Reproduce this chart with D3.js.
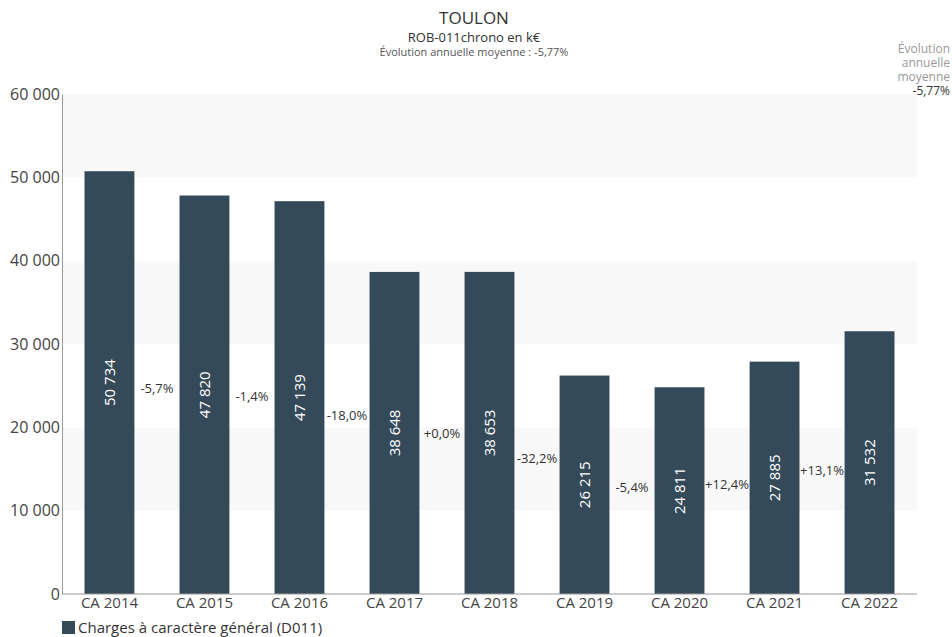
<!DOCTYPE html>
<meta charset="utf-8">
<style>
	body { margin: 0; background: #fff; }
	svg { font-family: "Open Sans", "Noto Sans", sans-serif; }
	.axis path, .axis line { stroke: #999; }
	.axis text { fill: #444; font-size: 15px; }
</style>
<body>
<svg></svg>
<script src="https://cdn.jsdelivr.net/npm/d3@7"></script>
<script>
	// data
	var categories = ["CA 2014", "CA 2015", "CA 2016", "CA 2017", "CA 2018", "CA 2019", "CA 2020", "CA 2021", "CA 2022"];
	var values = [50734, 47820, 47139, 38648, 38653, 26215, 24811, 27885, 31532];
	var changes = ["-5,7%", "-1,4%", "-18,0%", "+0,0%", "-32,2%", "-5,4%", "+12,4%", "+13,1%"];
	var yTicks = [0, 10000, 20000, 30000, 40000, 50000, 60000];
	var seriesName = "Charges à caractère général (D011)";
	var avgText = "-5,77%";

	var W = 952, H = 637;
	var mLeft = 62, mRight = 917, mTop = 94, mBottom = 594;
	var barColor = "#344a58";

	var svg = d3.select("svg").attr("width", W).attr("height", H);

	var x = d3.scaleBand().domain(categories).range([mLeft, mRight]).paddingInner(0.475).paddingOuter(0.237);
	var y = d3.scaleLinear().domain([0, 60000]).range([mBottom, mTop]);

	var fmt = function(v) { return d3.format(",")(v).replace(/,/g, " "); };

	// alternating bands
	var bands = [];
	for (var i = 0; i < yTicks.length - 1; i++) bands.push([yTicks[i], yTicks[i + 1], i]);
	svg.append("g").selectAll("rect").data(bands).enter().append("rect")
		.attr("x", mLeft)
		.attr("width", mRight - mLeft)
		.attr("y", function(d) { return y(d[1]); })
		.attr("height", function(d) { return y(d[0]) - y(d[1]); })
		.attr("fill", function(d) { return d[2] % 2 == 1 ? "#f8f8f8" : "#fff"; });

	// titles
	svg.append("text").attr("x", 474).attr("y", 24).attr("text-anchor", "middle")
		.style("font-size", "17px").attr("fill", "#333").text("TOULON");
	svg.append("text").attr("x", 474).attr("y", 42).attr("text-anchor", "middle")
		.style("font-size", "13px").attr("fill", "#333").text("ROB-011chrono en k€");
	svg.append("text").attr("x", 474).attr("y", 56).attr("text-anchor", "middle")
		.style("font-size", "11px").attr("fill", "#555").text("Évolution annuelle moyenne : " + avgText);

	// right note
	var note = ["Évolution", "annuelle", "moyenne"];
	svg.append("g").selectAll("text").data(note).enter().append("text")
		.attr("x", 950).attr("y", function(d, i) { return 53 + i * 14; })
		.attr("text-anchor", "end").style("font-size", "12px").attr("fill", "#999")
		.text(function(d) { return d; });
	svg.append("text").attr("x", 950).attr("y", 95).attr("text-anchor", "end")
		.style("font-size", "12px").attr("fill", "#333").text(avgText);

	// bars
	svg.append("g").selectAll("rect").data(values).enter().append("rect")
		.attr("x", function(d, i) { return x(categories[i]); })
		.attr("width", x.bandwidth())
		.attr("y", function(d) { return y(d); })
		.attr("height", function(d) { return mBottom - y(d); })
		.attr("fill", barColor);

	// value labels inside bars
	svg.append("g").selectAll("text").data(values).enter().append("text")
		.attr("transform", function(d, i) {
			var cx = x(categories[i]) + x.bandwidth() / 2;
			var cy = y(d / 2);
			return "translate(" + cx + "," + cy + ") rotate(-90)";
		})
		.attr("text-anchor", "middle").attr("dy", "0.35em")
		.style("font-size", "15px").attr("fill", "#fff")
		.text(function(d) { return fmt(d); });

	// change labels between bars
	svg.append("g").selectAll("text").data(changes).enter().append("text")
		.attr("x", function(d, i) {
			return (x(categories[i]) + x(categories[i + 1]) + x.bandwidth()) / 2;
		})
		.attr("y", function(d, i) { return y((values[i] + values[i + 1]) / 4); })
		.attr("dy", "0.35em").attr("text-anchor", "middle")
		.style("font-size", "13px").attr("fill", "#333")
		.text(function(d) { return d; });

	// axes
	var yAxis = svg.append("g").attr("class", "axis")
		.attr("transform", "translate(" + mLeft + ",0)")
		.call(d3.axisLeft(y).tickValues(yTicks).tickSize(0).tickPadding(2).tickFormat(fmt));
	yAxis.attr("font-family", null).attr("font-size", null);
	yAxis.selectAll("text").attr("fill", "#333").style("font-size", "16px");

	var xAxis = svg.append("g").attr("class", "axis")
		.attr("transform", "translate(0," + mBottom + ")")
		.call(d3.axisBottom(x).tickSize(0).tickPadding(3));
	xAxis.attr("font-family", null).attr("font-size", null);
	xAxis.select(".domain").attr("d", "M" + mLeft + ",0H" + mRight);

	// legend
	var lg = svg.append("g").attr("transform", "translate(62,621)");
	lg.append("rect").attr("width", 13).attr("height", 13).attr("fill", barColor);
	lg.append("text").attr("x", 16).attr("y", 7).attr("dy", "0.35em")
		.style("font-size", "15px").attr("fill", "#333").text(seriesName);
</script>
</body>
